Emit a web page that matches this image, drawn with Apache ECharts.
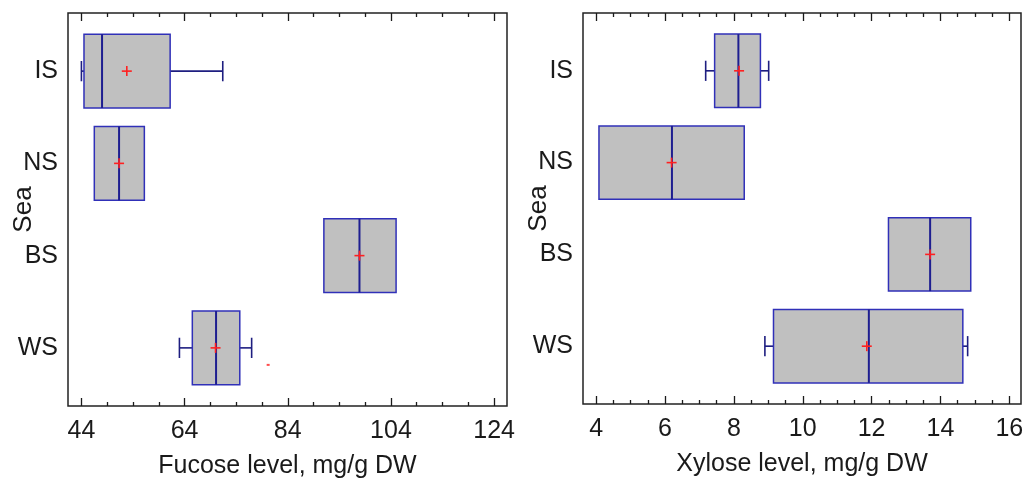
<!DOCTYPE html>
<html>
<head>
<meta charset="utf-8">
<script src="https://cdn.jsdelivr.net/npm/echarts@6/dist/echarts.min.js"></script>
<style>
  html, body { margin: 0; padding: 0; background: #fff; }
  #chart { width: 1036px; height: 478px; }
</style>
</head>
<body>
<div id="chart"></div>
<script>
// Categories (top to bottom)
const seas = ['IS', 'NS', 'BS', 'WS'];

// Fucose level, mg/g DW — whisker ends, quartiles, median, mean
const fucoseLow    = [44.0, null, null, 63.0];
const fucoseQ1     = [44.5, 46.5, 91.0, 65.5];
const fucoseMedian = [48.0, 51.3, 97.9, 70.1];
const fucoseQ3     = [61.2, 56.2, 105.0, 74.7];
const fucoseHigh   = [71.4, null, null, 77.0];
const fucoseMean   = [52.8, 51.3, 97.9, 70.0];
const fucoseOutliers = [[80.2, 'WS']];

// Xylose level, mg/g DW
const xyloseLow    = [7.18, null, null, 8.90];
const xyloseQ1     = [7.44, 4.08, 12.49, 9.15];
const xyloseMedian = [8.13, 6.20, 13.70, 11.92];
const xyloseQ3     = [8.77, 8.30, 14.88, 14.65];
const xyloseHigh   = [9.01, null, null, 14.79];
const xyloseMean   = [8.15, 6.19, 13.70, 11.86];

// Tick marks
const fucoseTicks = [44, 64, 84, 104, 124];
const fucoseMinorTicks = [49, 54, 59, 69, 74, 79, 89, 94, 99, 109, 114, 119];
const xyloseTicks = [4, 6, 8, 10, 12, 14, 16];
const xyloseMinorTicks = [4.5, 5, 5.5, 6.5, 7, 7.5, 8.5, 9, 9.5, 10.5, 11, 11.5,
                          12.5, 13, 13.5, 14.5, 15, 15.5];

const FONT = "'Liberation Sans', Arial, sans-serif";
const INK = '#1a1a1a';
const BOX_FILL = '#c0c0c0';
const BOX_EDGE = '#3030b8';
const MEDIAN = '#1e1e90';
const WHISKER = '#1e1e80';
const MEAN = '#ff2020';
const BOX_HEIGHT = 0.80;   // in category units
const CAP_HEIGHT = 0.22;
const MEAN_HALF = 5;       // px

function boxRenderer(low, q1, med, q3, high, mean) {
  return function (params, api) {
    const i = params.dataIndex;
    const row = i + 1;
    const pt = v => api.coord([v, row]);
    const yc = pt(med[i])[1];
    const halfBox = Math.abs(api.size([0, BOX_HEIGHT])[1]) / 2;
    const halfCap = Math.abs(api.size([0, CAP_HEIGHT])[1]) / 2;
    const xQ1 = pt(q1[i])[0];
    const xQ3 = pt(q3[i])[0];
    const xMed = pt(med[i])[0];
    const xMean = pt(mean[i])[0];
    const children = [];
    const wStyle = { stroke: WHISKER, lineWidth: 1.6 };
    if (low[i] != null) {
      const xl = pt(low[i])[0];
      children.push({ type: 'line', shape: { x1: xl, y1: yc, x2: xQ1, y2: yc }, style: wStyle });
      children.push({ type: 'line', shape: { x1: xl, y1: yc - halfCap, x2: xl, y2: yc + halfCap }, style: wStyle });
    }
    if (high[i] != null) {
      const xh = pt(high[i])[0];
      children.push({ type: 'line', shape: { x1: xQ3, y1: yc, x2: xh, y2: yc }, style: wStyle });
      children.push({ type: 'line', shape: { x1: xh, y1: yc - halfCap, x2: xh, y2: yc + halfCap }, style: wStyle });
    }
    children.push({
      type: 'rect',
      shape: { x: xQ1, y: yc - halfBox, width: xQ3 - xQ1, height: 2 * halfBox },
      style: { fill: BOX_FILL, stroke: BOX_EDGE, lineWidth: 1.5 }
    });
    children.push({
      type: 'line',
      shape: { x1: xMed, y1: yc - halfBox, x2: xMed, y2: yc + halfBox },
      style: { stroke: MEDIAN, lineWidth: 2 }
    });
    const mStyle = { stroke: MEAN, lineWidth: 1.6 };
    children.push({ type: 'line', shape: { x1: xMean - MEAN_HALF, y1: yc, x2: xMean + MEAN_HALF, y2: yc }, style: mStyle });
    children.push({ type: 'line', shape: { x1: xMean, y1: yc - MEAN_HALF, x2: xMean, y2: yc + MEAN_HALF }, style: mStyle });
    return { type: 'group', children: children };
  };
}

function tickAxis(gridIndex, min, max, position, values, length, extra) {
  return Object.assign({
    type: 'value', gridIndex: gridIndex, min: min, max: max, position: position,
    axisLine: { show: false },
    splitLine: { show: false },
    axisTick: { show: true, inside: true, length: length, customValues: values,
                lineStyle: { color: INK, width: 1.3 } },
    axisLabel: { show: false }
  }, extra || {});
}

function labelAxis(gridIndex, min, max, values, name) {
  return tickAxis(gridIndex, min, max, 'bottom', values, 8, {
    name: name,
    nameLocation: 'middle',
    nameGap: 48,
    nameMoveOverlap: false,
    nameTextStyle: { fontFamily: FONT, fontSize: 25, color: INK },
    axisLabel: { show: true, customValues: values, margin: 13,
                 fontFamily: FONT, fontSize: 25, color: INK }
  });
}

function seaAxis(gridIndex) {
  return {
    type: 'value', gridIndex: gridIndex, inverse: true, min: 0.37, max: 4.63,
    name: 'Sea', nameLocation: 'middle', nameGap: 31, nameMoveOverlap: false,
    nameTextStyle: { fontFamily: FONT, fontSize: 26, color: INK },
    axisLine: { show: false }, axisTick: { show: false }, splitLine: { show: false },
    axisLabel: {
      customValues: [1, 2, 3, 4], margin: 10,
      formatter: v => seas[Math.round(v) - 1] || '',
      fontFamily: FONT, fontSize: 25, color: INK
    }
  };
}

const FMIN = 41.4, FMAX = 126.5;
const XMIN = 3.616, XMAX = 16.34;

const chart = echarts.init(document.getElementById('chart'), null, { renderer: 'canvas' });
chart.setOption({
  animation: false,
  backgroundColor: '#fff',
  grid: [
    { left: 68, top: 13, width: 439, height: 393, show: true, containLabel: false,
      outerBoundsMode: 'none',
      borderColor: '#222', borderWidth: 1.5, backgroundColor: 'transparent' },
    { left: 583, top: 13, width: 438, height: 391, show: true, containLabel: false,
      outerBoundsMode: 'none',
      borderColor: '#222', borderWidth: 1.5, backgroundColor: 'transparent' }
  ],
  xAxis: [
    labelAxis(0, FMIN, FMAX, fucoseTicks, 'Fucose level, mg/g DW'),
    tickAxis(0, FMIN, FMAX, 'bottom', fucoseMinorTicks, 4),
    tickAxis(0, FMIN, FMAX, 'top', fucoseTicks, 8),
    tickAxis(0, FMIN, FMAX, 'top', fucoseMinorTicks, 4),
    labelAxis(1, XMIN, XMAX, xyloseTicks, 'Xylose level, mg/g DW'),
    tickAxis(1, XMIN, XMAX, 'bottom', xyloseMinorTicks, 4),
    tickAxis(1, XMIN, XMAX, 'top', xyloseTicks, 8),
    tickAxis(1, XMIN, XMAX, 'top', xyloseMinorTicks, 4)
  ],
  yAxis: [seaAxis(0), seaAxis(1)],
  series: [
    {
      type: 'custom', name: 'Fucose', xAxisIndex: 0, yAxisIndex: 0,
      renderItem: boxRenderer(fucoseLow, fucoseQ1, fucoseMedian, fucoseQ3, fucoseHigh, fucoseMean),
      encode: { x: 0, y: 1 },
      data: seas.map((s, i) => [fucoseMedian[i], i + 1])
    },
    {
      type: 'scatter', name: 'Fucose outliers', xAxisIndex: 0, yAxisIndex: 0,
      symbol: 'rect', symbolSize: [3, 2], symbolOffset: [0, 17],
      itemStyle: { color: MEAN },
      data: fucoseOutliers.map(o => [o[0], seas.indexOf(o[1]) + 1])
    },
    {
      type: 'custom', name: 'Xylose', xAxisIndex: 4, yAxisIndex: 1,
      renderItem: boxRenderer(xyloseLow, xyloseQ1, xyloseMedian, xyloseQ3, xyloseHigh, xyloseMean),
      encode: { x: 0, y: 1 },
      data: seas.map((s, i) => [xyloseMedian[i], i + 1])
    }
  ]
});
</script>
</body>
</html>
